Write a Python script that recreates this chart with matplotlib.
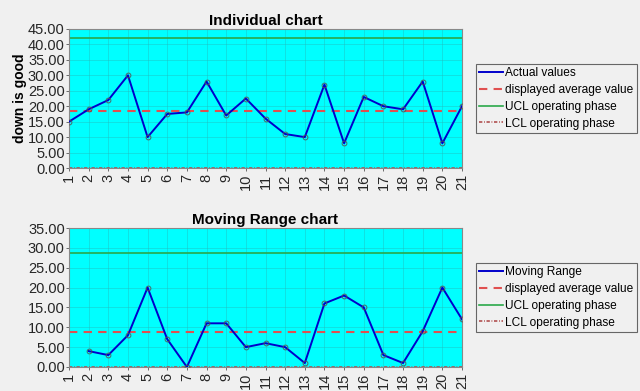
import matplotlib
matplotlib.use("Agg")
import matplotlib.pyplot as plt
import numpy as np

plt.rcParams['font.family'] = ['Liberation Sans', 'DejaVu Sans']

x_ind = list(range(1, 22))
individual = [15, 19, 22, 30, 10, 17.5, 18, 28, 17, 22.5, 16, 11, 10, 27, 8, 23, 20, 19, 28, 8, 20]
ind_avg = 18.5
ind_ucl = 42.0
ind_lcl = 0.0

x_mr = list(range(2, 22))
moving_range = [4, 3, 8, 20, 7, 0, 11, 11, 5, 6, 5, 1, 16, 18, 15, 3, 1, 9, 20, 12]
mr_avg = 8.7
mr_ucl = 28.7
mr_lcl = 0.0

bg = '#f0f0f0'
fig = plt.figure(figsize=(6.4, 3.91), dpi=100, facecolor=bg)
W, H = 640, 391

def make_ax(top, bottom, x, y, avg, ucl, lcl, ymax, title, label, ylabel):
    ax = fig.add_axes([69 / W, 1 - bottom / H, (462 - 69) / W, (bottom - top) / H])
    ax.set_facecolor('#00ffff')
    ax.plot(x, y, color='#0000cc', lw=1.4, label=label, zorder=3)
    ax.plot(x, y, 'o', ms=3.5, mfc='none', mec='#555555', mew=0.6, zorder=4)
    ax.axhline(avg, color='#e05050', lw=1.5, ls=(0, (4, 3)), label='displayed average value', zorder=2)
    ax.axhline(ucl, color='#2aa84a', lw=1.2, label='UCL operating phase', zorder=2)
    ax.axhline(lcl, color='#b05050', lw=1.2, ls=(0, (2, 1, 0.5, 1)), label='LCL operating phase', zorder=2)
    ax.set_xlim(1, 21)
    ax.set_ylim(0, ymax)
    ax.set_xticks(range(1, 22))
    ax.set_xticklabels([str(i) for i in range(1, 22)], rotation=90, fontsize=10.5, color='#262626')
    yt = np.arange(0, ymax + 0.1, 5)
    ax.set_yticks(yt)
    ax.set_yticklabels([f'{v:.2f}' for v in yt], fontsize=10.5, color='#262626')
    ax.tick_params(axis='y', length=2, width=0.6, color='#555555', pad=1)
    ax.tick_params(axis='x', length=2, width=0.6, color='#555555', pad=2)
    ax.grid(True, color='#22bbbb', lw=0.5, alpha=0.6)
    ax.set_axisbelow(True)
    for s in ax.spines.values():
        s.set_color('#888888')
        s.set_linewidth(0.8)
    ax.set_title(title, fontsize=11, fontweight='bold', pad=3)
    if ylabel:
        ax.set_ylabel(ylabel, fontsize=10, fontweight='bold', labelpad=1)
    leg = ax.legend(loc='center left', bbox_to_anchor=(1.035, 0.5), fontsize=8.6,
                    frameon=True, fancybox=False, edgecolor='#444444', facecolor=bg,
                    handlelength=2.0, handletextpad=0.15, borderpad=0.3, labelspacing=0.4,
                    borderaxespad=0)
    leg.get_frame().set_linewidth(0.8)
    return ax

make_ax(29, 168, x_ind, individual, ind_avg, ind_ucl, ind_lcl, 45, 'Individual chart', 'Actual values', 'down is good')
make_ax(228, 367, x_mr, moving_range, mr_avg, mr_ucl, mr_lcl, 35, 'Moving Range chart', 'Moving Range', None)

fig.savefig('out.png', dpi=100, facecolor=bg)
